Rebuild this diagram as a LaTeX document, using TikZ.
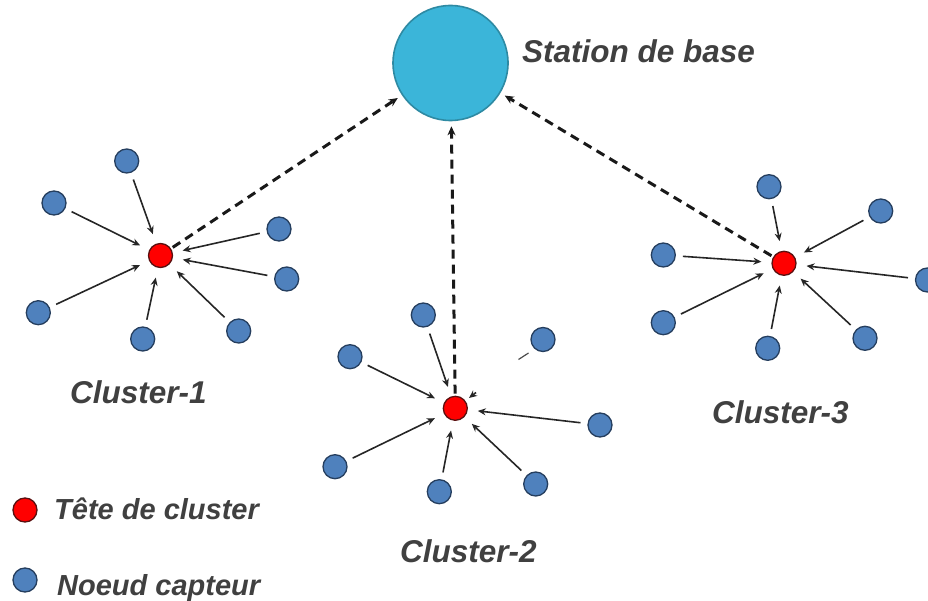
\documentclass[tikz,border=0pt]{standalone}
\usepackage{fontspec}
\setmainfont{Liberation Sans}
\usetikzlibrary{arrows.meta}
\definecolor{sensorblue}{HTML}{4F81BD}
\definecolor{sensoredge}{HTML}{253E5E}
\definecolor{headred}{HTML}{FF0000}
\definecolor{headedge}{HTML}{5A1010}
\definecolor{basefill}{HTML}{3BB5D9}
\definecolor{baseedge}{HTML}{2E8AA3}
\definecolor{labelgray}{HTML}{404040}
\tikzset{
  sensor/.style={circle, fill=sensorblue, draw=sensoredge, line width=1.3pt, minimum size=24pt, inner sep=0pt},
  head/.style={circle, fill=headred, draw=headedge, line width=1.3pt, minimum size=24pt, inner sep=0pt},
  basest/.style={circle, fill=basefill, draw=baseedge, line width=1.6pt, minimum size=115pt, inner sep=0pt},
  link/.style={draw=black!85, line width=1.6pt, -{Stealth[length=8pt,width=7pt]}, shorten <=7pt, shorten >=10pt},
  uplink/.style={draw=black!90, line width=3pt, dash pattern=on 9pt off 6pt, -{Stealth[length=9pt,width=8pt]}, shorten <=2pt, shorten >=5pt},
  lbl/.style={font=\fontsize{31.5}{38}\selectfont\bfseries\itshape, text=labelgray, anchor=base west, inner sep=0pt},
  leglbl/.style={font=\fontsize{29}{34}\selectfont\bfseries\itshape, text=labelgray, anchor=base west, inner sep=0pt}
}
\begin{document}
\begin{tikzpicture}[x=1pt, y=-1pt]
\useasboundingbox (0,0) rectangle (928,601);

% base station
\node[basest] (bs) at (450.5,63) {};
\node[lbl] (bslbl) at (522,63) {Station de base};

% cluster heads
\node[head] (h1) at (160.5,255.5) {};
\node[head] (h2) at (455.3,408.3) {};
\node[head] (h3) at (784,263.3) {};

% cluster 1 sensors
\node[sensor] (a1) at (126.7,161) {};
\node[sensor] (a2) at (54,203) {};
\node[sensor] (a3) at (279,229) {};
\node[sensor] (a4) at (286.7,279) {};
\node[sensor] (a5) at (238.7,331) {};
\node[sensor] (a6) at (142.7,339) {};
\node[sensor] (a7) at (38.3,312.7) {};

% cluster 2 sensors
\node[sensor] (b1) at (423.3,315) {};
\node[sensor] (b2) at (350,356.7) {};
\node[sensor] (b3) at (543,339.5) {};
\node[sensor] (b4) at (600,425) {};
\node[sensor] (b5) at (535.7,484) {};
\node[sensor] (b6) at (439.3,491.7) {};
\node[sensor] (b7) at (335,466.7) {};

% cluster 3 sensors
\node[sensor] (c1) at (769,186.7) {};
\node[sensor] (c2) at (880.7,211) {};
\node[sensor] (c3) at (663.3,255) {};
\node[sensor] (c4) at (927.5,280) {};
\node[sensor] (c5) at (663.3,322.7) {};
\node[sensor] (c6) at (767.7,348.3) {};
\node[sensor] (c7) at (865,338.3) {};

% sensor to head links
\foreach \s in {a1,a2,a3,a4,a5,a6,a7} \draw[link] (\s) -- (h1);
\foreach \s in {b1,b2,b4,b5,b6,b7} \draw[link] (\s) -- (h2);
\foreach \s in {c1,c2,c3,c4,c5,c6,c7} \draw[link] (\s) -- (h3);

% broken link of the isolated sensor
\coordinate (f1) at (528.5,353);
\coordinate (f2) at (518.5,359.5);
\draw[draw=black!70, line width=1.2pt] (f1) -- (f2);
\coordinate (s1) at (476,392.5);
\coordinate (s2) at (469,398);
\draw[draw=black!85, line width=1.6pt, -{Stealth[length=8pt,width=7pt]}] (s1) -- (s2);

% head to base station links
\draw[uplink] (h1) -- (bs);
\draw[uplink] (h2) -- (bs);
\draw[uplink] (h3) -- (bs);

% cluster labels
\node[lbl] (l1) at (70,403) {Cluster-1};
\node[lbl] (l2) at (400,562) {Cluster-2};
\node[lbl] (l3) at (712,423) {Cluster-3};

% legend
\node[head] (kh) at (25,510) {};
\node[leglbl] (khl) at (54,519) {Tête de cluster};
\node[sensor] (ks) at (25,580) {};
\node[leglbl] (ksl) at (57,595) {Noeud capteur};
\end{tikzpicture}
\end{document}
